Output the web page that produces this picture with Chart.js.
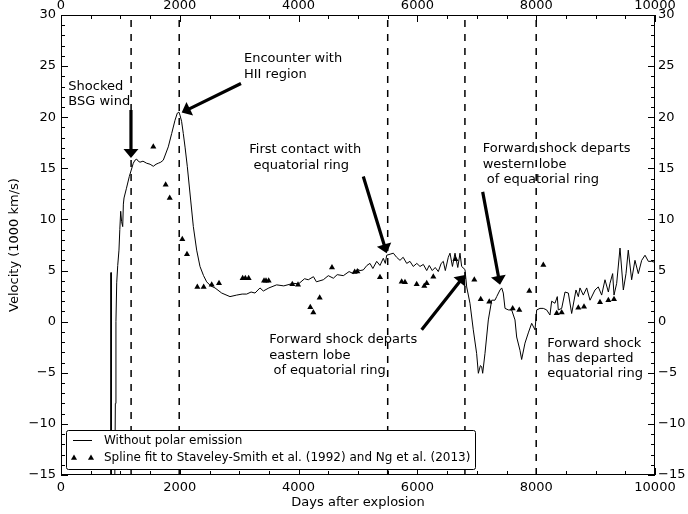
<!DOCTYPE html>
<html>
<head>
<meta charset="utf-8">
<script src="https://cdn.jsdelivr.net/npm/chart.js@4.4.1/dist/chart.umd.min.js"></script>
<style>
  body { margin: 0; background: #fff; }
  #wrap { width: 688px; height: 514px; }
</style>
</head>
<body>
<div id="wrap"><canvas id="myChart"></canvas></div>
<script>
// simulated velocity, without polar emission
var simDays = [838, 842, 846, 905, 915, 925, 938, 955, 976, 990, 1005, 1020, 1039, 1050, 1061, 1100, 1150, 1217, 1246, 1275, 1300, 1330, 1380, 1442, 1500, 1554, 1600, 1638, 1680, 1722, 1806, 1863, 1919, 1958, 1985, 2003, 2030, 2059, 2090, 2126, 2183, 2228, 2284, 2340, 2400, 2452, 2520, 2593, 2705, 2845, 2957, 3050, 3126, 3200, 3266, 3350, 3406, 3500, 3630, 3750, 3911, 4000, 4100, 4163, 4250, 4300, 4416, 4500, 4585, 4650, 4753, 4850, 4922, 5000, 5034, 5089, 5150, 5202, 5250, 5315, 5370, 5426, 5460, 5483, 5540, 5595, 5650, 5707, 5760, 5820, 5875, 5930, 5990, 6044, 6100, 6157, 6200, 6250, 6300, 6352, 6400, 6436, 6470, 6520, 6549, 6590, 6633, 6680, 6717, 6745, 6801, 6830, 6885, 6941, 6997, 7026, 7060, 7082, 7099, 7138, 7194, 7251, 7306, 7335, 7391, 7419, 7446, 7475, 7531, 7587, 7643, 7671, 7727, 7755, 7811, 7867, 7924, 7980, 8008, 8064, 8120, 8176, 8232, 8260, 8316, 8355, 8372, 8429, 8485, 8541, 8597, 8670, 8709, 8737, 8793, 8850, 8906, 8990, 9045, 9102, 9158, 9215, 9242, 9287, 9310, 9355, 9411, 9467, 9512, 9550, 9607, 9663, 9719, 9776, 9832, 9888, 9944, 10000];
var simVel = [-16, 4.8, -16, -16, -8, 0, 3.8, 5.5, 7.0, 9.0, 10.8, 9.8, 9.3, 11.5, 12.1, 13.0, 14.2, 15.5, 15.8, 15.9, 15.7, 15.6, 15.7, 15.5, 15.4, 15.2, 15.4, 15.5, 15.6, 15.8, 17.1, 18.4, 19.7, 20.4, 20.5, 20.2, 19.6, 18.4, 17.0, 15.2, 11.9, 9.3, 7.0, 5.4, 4.5, 3.9, 3.5, 3.3, 2.8, 2.45, 2.6, 2.7, 2.7, 2.9, 2.8, 3.3, 3.0, 3.3, 3.6, 3.5, 3.75, 3.7, 4.2, 4.1, 4.4, 3.9, 4.1, 4.5, 4.25, 4.6, 4.5, 4.9, 4.7, 5.1, 5.0, 5.06, 5.5, 5.7, 5.2, 5.9, 5.5, 6.2, 5.7, 6.5, 6.6, 6.7, 6.3, 6.0, 6.3, 5.7, 5.9, 5.4, 5.7, 5.4, 5.6, 5.0, 5.5, 5.0, 5.3, 4.9, 5.7, 5.9, 5.0, 6.3, 6.7, 5.4, 6.7, 5.3, 6.7, 5.4, 5.1, 3.4, 1.8, -0.8, -3.1, -5.05, -4.3, -4.4, -5.05, -3.1, 0.17, 2.1, 2.1, 2.45, 3.1, 3.3, 2.8, 1.3, 1.15, 1.15, 0.17, -1.5, -2.8, -3.7, -2.1, -1.1, -0.16, -0.8, 1.15, 1.3, 1.3, 1.15, 0.65, 2.0, 1.8, 2.45, 1.15, 1.3, 2.9, 2.8, 0.8, 3.1, 2.45, 3.3, 2.6, 3.3, 2.1, 3.1, 3.4, 2.6, 4.1, 2.9, 3.75, 4.7, 2.6, 3.75, 7.2, 3.1, 4.7, 7.0, 4.1, 6.0, 4.7, 6.0, 6.5, 5.9, 5.9, 5.8];

// spline fit to the radio data
var obsDays = [1554, 1762, 1830, 2042, 2121, 2295, 2402, 2537, 2660, 3058, 3103, 3159, 3418, 3451, 3496, 3894, 3990, 4197, 4248, 4355, 4562, 4944, 4989, 5370, 5735, 5791, 5988, 6116, 6157, 6268, 6640, 6958, 7066, 7210, 7604, 7715, 7884, 8120, 8345, 8429, 8709, 8805, 9074, 9215, 9310];
var obsVel = [17.1, 13.4, 12.1, 8.06, 6.6, 3.4, 3.4, 3.6, 3.75, 4.25, 4.25, 4.25, 4.0, 4.0, 4.0, 3.66, 3.6, 1.4, 0.9, 2.35, 5.3, 4.86, 4.9, 4.35, 3.9, 3.85, 3.66, 3.5, 3.75, 4.4, 6.1, 4.1, 2.2, 1.96, 1.3, 1.15, 3.0, 5.55, 0.82, 0.9, 1.37, 1.47, 1.9, 2.1, 2.2];

var eventDays = [1180, 1990, 5500, 6800, 8000];

var xTicks = [0, 2000, 4000, 6000, 8000, 10000];
var yTicks = [-15, -10, -5, 0, 5, 10, 15, 20, 25, 30];

var notes = [
  { x: 123, y: 23.0, lines: ['Shocked', 'BSG wind'] },
  { x: 3081, y: 25.7, lines: ['Encounter with', 'HII region'] },
  { x: 3170, y: 16.8, lines: ['First contact with', ' equatorial ring'] },
  { x: 7099, y: 16.9, lines: ['Forward shock departs', 'western lobe', ' of equatorial ring'] },
  { x: 3507, y: -1.8, lines: ['Forward shock departs', 'eastern lobe', ' of equatorial ring'] },
  { x: 8187, y: -2.1, lines: ['Forward shock', 'has departed', 'equatorial ring'] }
];

// arrows: tail -> tip, data coords
var arrows = [
  [1178, 20.7, 1178, 16.0],
  [3030, 23.3, 2032, 20.45],
  [5089, 14.2, 5483, 6.7],
  [7099, 12.7, 7391, 3.6],
  [6072, -0.8, 6801, 4.57]
];

var FONT = 'DejaVu Sans';

function pts(xs, ys) {
  var out = [];
  for (var i = 0; i < xs.length; i++) out.push({ x: xs[i], y: ys[i] });
  return out;
}

function fmtY(v) {
  return v < 0 ? '\u2212' + Math.abs(v) : String(v);
}

var datasets = [
  {
    label: 'Without polar emission',
    data: pts(simDays, simVel),
    showLine: true,
    borderColor: '#000',
    borderWidth: 1,
    pointRadius: 0,
    tension: 0
  },
  {
    label: 'Spline fit',
    data: pts(obsDays, obsVel),
    showLine: false,
    pointStyle: 'triangle',
    pointRadius: 3.5,
    backgroundColor: '#000',
    borderColor: '#000',
    borderWidth: 0
  }
];
eventDays.forEach(function (d) {
  datasets.push({
    data: [{ x: d, y: -15 }, { x: d, y: 30 }],
    showLine: true,
    borderColor: '#000',
    borderWidth: 1.5,
    borderDash: [7, 7],
    pointRadius: 0
  });
});

function drawArrow(ctx, x1, y1, x2, y2) {
  var dx = x2 - x1, dy = y2 - y1;
  var len = Math.sqrt(dx * dx + dy * dy);
  var ux = dx / len, uy = dy / len;
  var nx = -uy, ny = ux;
  var hl = 9, hw = 7.5, sw = 1.6;
  var bx = x2 - ux * hl, by = y2 - uy * hl;
  ctx.beginPath();
  ctx.moveTo(x1 + nx * sw, y1 + ny * sw);
  ctx.lineTo(bx + nx * sw, by + ny * sw);
  ctx.lineTo(bx + nx * hw, by + ny * hw);
  ctx.lineTo(x2, y2);
  ctx.lineTo(bx - nx * hw, by - ny * hw);
  ctx.lineTo(bx - nx * sw, by - ny * sw);
  ctx.lineTo(x1 - nx * sw, y1 - ny * sw);
  ctx.closePath();
  ctx.fillStyle = '#000';
  ctx.fill();
}

function tri(ctx, x, y, r) {
  ctx.beginPath();
  ctx.moveTo(x, y - r);
  ctx.lineTo(x + r * 0.87, y + r * 0.5);
  ctx.lineTo(x - r * 0.87, y + r * 0.5);
  ctx.closePath();
  ctx.fill();
}

var extras = {
  id: 'extras',
  afterDatasetsDraw: function (chart) {
    var ctx = chart.ctx;
    var a = chart.chartArea;
    var xs = chart.scales.x, ys = chart.scales.y;
    ctx.save();

    // frame
    ctx.strokeStyle = '#000';
    ctx.lineWidth = 1;
    ctx.strokeRect(a.left + 0.5, a.top + 0.5, a.right - a.left - 1, a.bottom - a.top - 1);

    // inward ticks on all four sides
    ctx.beginPath();
    for (var d = 0; d <= 10000; d += 500) {
      var px = Math.round(xs.getPixelForValue(d)) + 0.5;
      var L = d % 2000 === 0 ? 7 : 4;
      ctx.moveTo(px, a.bottom); ctx.lineTo(px, a.bottom - L);
      ctx.moveTo(px, a.top); ctx.lineTo(px, a.top + L);
    }
    for (var v = -15; v <= 30; v += 1) {
      var py = Math.round(ys.getPixelForValue(v)) + 0.5;
      var L2 = v % 5 === 0 ? 7 : 4;
      ctx.moveTo(a.left, py); ctx.lineTo(a.left + L2, py);
      ctx.moveTo(a.right, py); ctx.lineTo(a.right - L2, py);
    }
    ctx.stroke();

    // arrows
    arrows.forEach(function (ar) {
      drawArrow(ctx, xs.getPixelForValue(ar[0]), ys.getPixelForValue(ar[1]),
        xs.getPixelForValue(ar[2]), ys.getPixelForValue(ar[3]));
    });

    // annotation text
    ctx.fillStyle = '#000';
    ctx.font = '13px "' + FONT + '"';
    ctx.textAlign = 'left';
    ctx.textBaseline = 'middle';
    notes.forEach(function (n) {
      var x0 = xs.getPixelForValue(n.x), y0 = ys.getPixelForValue(n.y);
      n.lines.forEach(function (t, i) {
        ctx.fillText(t, x0, y0 + i * 15.4);
      });
    });

    // legend box
    var lx = a.left + 5, ly = a.bottom - 45, lw = 409, lh = 39;
    ctx.beginPath();
    ctx.roundRect(lx + 0.5, ly + 0.5, lw, lh, 2);
    ctx.fillStyle = '#fff';
    ctx.fill();
    ctx.lineWidth = 1;
    ctx.strokeStyle = '#000';
    ctx.stroke();
    ctx.beginPath();
    ctx.moveTo(lx + 7, ly + 10.5); ctx.lineTo(lx + 26, ly + 10.5);
    ctx.stroke();
    ctx.fillStyle = '#000';
    tri(ctx, lx + 8, ly + 28, 3.5);
    tri(ctx, lx + 25, ly + 28, 3.5);
    ctx.font = '12px "' + FONT + '"';
    ctx.fillText('Without polar emission', lx + 38, ly + 10.5);
    ctx.fillText('Spline fit to Staveley-Smith et al. (1992) and Ng et al. (2013)', lx + 38, ly + 28);

    ctx.restore();
  }
};

function fixSize(w, h) {
  return function (s) {
    if (w) s.width = w;
    if (h) s.height = h;
  };
}

var tickFont = { family: FONT, size: 13 };

var config = {
  type: 'scatter',
  data: { datasets: datasets },
  options: {
    responsive: true,
    maintainAspectRatio: false,
    animation: false,
    layout: { padding: 0 },
    plugins: { legend: { display: false }, tooltip: { enabled: false } },
    scales: {
      x: {
        type: 'linear', position: 'bottom', min: 0, max: 10000,
        afterBuildTicks: function (s) { s.ticks = xTicks.map(function (v) { return { value: v }; }); },
        ticks: { font: tickFont, color: '#000', padding: 5, maxRotation: 0, autoSkip: false, callback: function (v) { return String(v); } },
        grid: { display: false, drawTicks: false },
        border: { display: false },
        title: { display: true, text: 'Days after explosion', font: tickFont, color: '#000', padding: { top: 0, bottom: 4 } },
        afterFit: fixSize(0, 39)
      },
      x2: {
        type: 'linear', position: 'top', min: 0, max: 10000,
        afterBuildTicks: function (s) { s.ticks = xTicks.map(function (v) { return { value: v }; }); },
        ticks: { font: tickFont, color: '#000', padding: 2, maxRotation: 0, autoSkip: false, callback: function (v) { return String(v); } },
        grid: { display: false, drawTicks: false },
        border: { display: false },
        afterFit: fixSize(0, 15)
      },
      y: {
        type: 'linear', position: 'left', min: -15, max: 30,
        afterBuildTicks: function (s) { s.ticks = yTicks.map(function (v) { return { value: v }; }); },
        ticks: { font: tickFont, color: '#000', padding: 5, autoSkip: false, callback: fmtY },
        grid: { display: false, drawTicks: false },
        border: { display: false },
        title: { display: true, text: 'Velocity (1000 km/s)', font: tickFont, color: '#000', padding: { top: 7, bottom: 0 } },
        afterFit: fixSize(61, 0)
      },
      y2: {
        type: 'linear', position: 'right', min: -15, max: 30,
        afterBuildTicks: function (s) { s.ticks = yTicks.map(function (v) { return { value: v }; }); },
        ticks: { font: tickFont, color: '#000', padding: 3, autoSkip: false, callback: fmtY },
        grid: { display: false, drawTicks: false },
        border: { display: false },
        afterFit: fixSize(33, 0)
      }
    }
  },
  plugins: [extras]
};

var myChart = new Chart(document.getElementById('myChart'), config);
</script>
</body>
</html>
